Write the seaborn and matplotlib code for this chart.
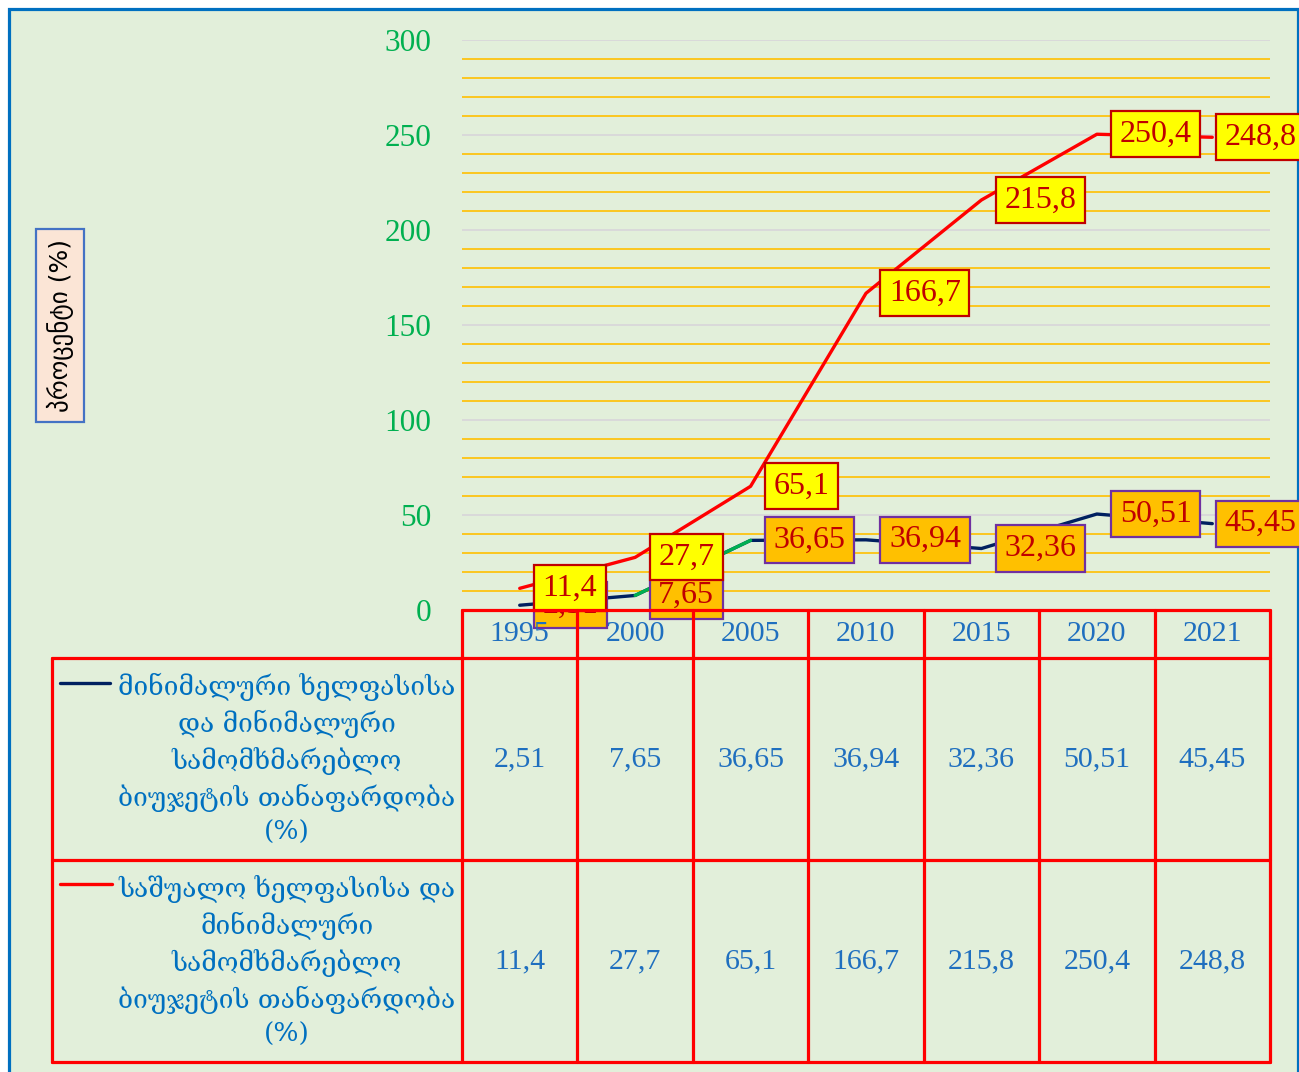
import numpy as np
import pandas as pd
import seaborn as sns
import matplotlib
matplotlib.use("Agg")
import matplotlib.pyplot as plt
from matplotlib.patches import Rectangle
from matplotlib.lines import Line2D

# ---------------- data ----------------
years = ["1995", "2000", "2005", "2010", "2015", "2020", "2021"]
min_ratio = [2.51, 7.65, 36.65, 36.94, 32.36, 50.51, 45.45]
avg_ratio = [11.4, 27.7, 65.1, 166.7, 215.8, 250.4, 248.8]
min_label = "მინიმალური ხელფასისა\nდა მინიმალური\nსამომხმარებლო\nბიუჯეტის თანაფარდობა\n(%)"
avg_label = "საშუალო ხელფასისა და\nმინიმალური\nსამომხმარებლო\nბიუჯეტის თანაფარდობა\n(%)"
y_label = "პროცენტი (%)"
y_ticks = [0, 50, 100, 150, 200, 250, 300]

def fmt(v):
    return f"{v:g}".replace(".", ",")

# ---------------- style ----------------
sns.set_theme(style="white")
plt.rcParams["font.family"] = ["Liberation Serif", "DejaVu Serif", "DejaVu Sans"]

W, H = 1299, 1072
fig = plt.figure(figsize=(W / 100, H / 100), dpi=100, facecolor="white")

def fx(px):
    return px / W

def fy(py):
    return 1 - py / H

# background panel with blue border
bg = Rectangle((fx(8.5), fy(1090)), fx(1297.5) - fx(8.5), fy(8.5) - fy(1090),
               transform=fig.transFigure, facecolor="#E2EFDA", edgecolor="#0070C0",
               linewidth=2.3, zorder=-5)
fig.add_artist(bg)

ax = fig.add_axes([fx(462), fy(610), fx(1270) - fx(462), fy(40) - fy(610)])
ax.patch.set_alpha(0)

idx = list(range(len(years)))
df = pd.DataFrame({"idx": idx, "min": min_ratio, "avg": avg_ratio})

# grid
for v in range(10, 300, 10):
    if v % 50:
        ax.axhline(v, color="#FFC000", lw=1.2, zorder=0)
for v in y_ticks[1:]:
    ax.axhline(v, color="#D9D9D9", lw=1.4, zorder=0)

sns.lineplot(data=df, x="idx", y="min", color="#002060", lw=2.4, ax=ax, zorder=3)
sns.lineplot(x=idx[1:3], y=min_ratio[1:3], color="#00B050", lw=2.4, ax=ax, zorder=3.5)
sns.lineplot(data=df, x="idx", y="avg", color="#FF0000", lw=2.4, ax=ax, zorder=3)

ax.set_xlim(-0.5, len(years) - 0.5)
ax.set_ylim(0, 300)
ax.set_yticks(y_ticks)
ax.set_yticklabels([str(t) for t in y_ticks], color="#00B050", fontsize=22.5)
ax.tick_params(axis="y", length=0, pad=22)
ax.set_xticks([])
ax.set_xlabel("")
ax.set_ylabel("")
for s in ax.spines.values():
    s.set_visible(False)

# data labels
def put_labels(vals, fc, ec, z):
    for i, v in enumerate(vals):
        dx = 4 if i == len(vals) - 1 else 15
        ax.annotate(fmt(v), (i, v), xytext=(dx + 8, 0), textcoords="offset pixels",
                    ha="left", va="center", fontsize=23, color="#C00000",
                    bbox=dict(boxstyle="square,pad=0.27", fc=fc, ec=ec, lw=1.6),
                    zorder=z, annotation_clip=False)

put_labels(min_ratio, "#FFC000", "#7030A0", 5)
put_labels(avg_ratio, "#FFFF00", "#C00000", 6)

# ---------------- table ----------------
to_fig = ax.transData + fig.transFigure.inverted()

def dxf(x):
    return to_fig.transform((x, 0))[0]

red = "#FF0000"
tlw = 2.3
n = len(years)
x_right = dxf(n - 0.5)
x_leftcol = fx(52)
# verticals
for k in range(n + 1):
    fig.add_artist(Line2D([dxf(k - 0.5)] * 2, [fy(610), fy(1062)], color=red, lw=tlw,
                          transform=fig.transFigure, zorder=7))
fig.add_artist(Line2D([x_leftcol] * 2, [fy(658), fy(1062)], color=red, lw=tlw,
                      transform=fig.transFigure, zorder=7))
# horizontals
fig.add_artist(Line2D([dxf(-0.5), x_right], [fy(610)] * 2, color=red, lw=tlw,
                      transform=fig.transFigure, zorder=7))
for yy in (658, 860, 1062):
    fig.add_artist(Line2D([x_leftcol, x_right], [fy(yy)] * 2, color=red, lw=tlw,
                          transform=fig.transFigure, zorder=7))

txt_blue = "#1F6FBF"
for i, yr in enumerate(years):
    xc = dxf(i)
    fig.text(xc, fy(634), yr, ha="center", va="center", fontsize=21.5, color=txt_blue)
    fig.text(xc, fy(759), fmt(min_ratio[i]), ha="center", va="center", fontsize=21.5, color=txt_blue)
    fig.text(xc, fy(961), fmt(avg_ratio[i]), ha="center", va="center", fontsize=21.5, color=txt_blue)

fig.text(fx(287), fy(759), min_label, ha="center", va="center", fontsize=19,
         color="#0070C0", linespacing=1.4, family=["DejaVu Serif", "DejaVu Sans"])
fig.text(fx(287), fy(961), avg_label, ha="center", va="center", fontsize=19,
         color="#0070C0", linespacing=1.4, family=["DejaVu Serif", "DejaVu Sans"])
fig.add_artist(Line2D([fx(60), fx(110)], [fy(683)] * 2, color="#002060", lw=2.4,
                      transform=fig.transFigure))
fig.add_artist(Line2D([fx(60), fx(112)], [fy(884)] * 2, color="#FF0000", lw=2.4,
                      transform=fig.transFigure))

# y axis title
fig.text(fx(60), fy(325), y_label, rotation=90, ha="center", va="center", fontsize=18,
         color="black", family=["DejaVu Sans"],
         bbox=dict(boxstyle="square,pad=0.4", fc="#FBE5D6", ec="#4472C4", lw=1.6))

fig.savefig("out.png", dpi=100, facecolor="white")
